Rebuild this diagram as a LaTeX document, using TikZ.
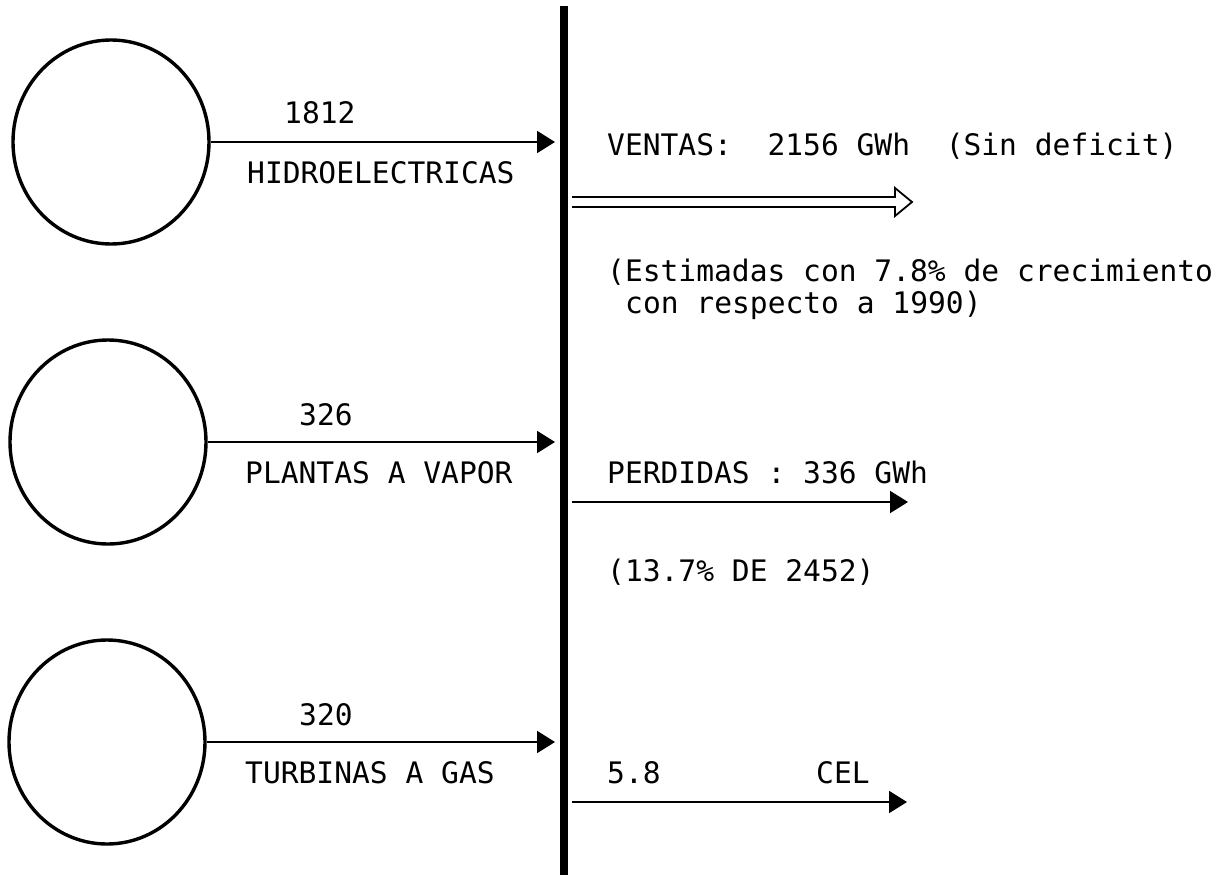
\documentclass[tikz,border=0pt]{standalone}
\usepackage{fontspec}
\setmonofont{DejaVu Sans Mono}
\usetikzlibrary{arrows.meta,shapes.geometric}
\newcommand\plotfont{\ttfamily\fontsize{29.6pt}{34pt}\selectfont}
\begin{document}
\begin{tikzpicture}[x=1pt,y=-1pt,
  src/.style={ellipse, draw, line width=3.4pt, minimum width=196pt, minimum height=204pt, inner sep=0pt},
  lbl/.style={anchor=base west, inner sep=0pt, font=\plotfont},
  feed/.style={line width=2pt, -{Triangle[length=18pt,width=22pt]}},
  busbar/.style={line width=7.5pt},
  hollow/.style={line width=1.8pt, line join=miter}]
\useasboundingbox (0,0) rectangle (1222,875);

% bus bar
\coordinate (bartop) at (564,6);
\coordinate (barbot) at (564,875);
\draw[busbar] (bartop) -- (barbot);

% sources
\node[src] (c1) at (111,142) {};
\node[src] (c2) at (108,442) {};
\node[src] (c3) at (107,742) {};

\coordinate (in1) at (555,142);
\coordinate (in2) at (555,442);
\coordinate (in3) at (555,742);
\draw[feed] (c1.east) -- (in1);
\draw[feed] (c2.east) -- (in2);
\draw[feed] (c3.east) -- (in3);

\node[lbl] (v1) at (284,123) {1812};
\node[lbl] (n1) at (247,183) {HIDROELECTRICAS};
\node[lbl] (v2) at (299,425) {326};
\node[lbl] (n2) at (245,483) {PLANTAS A VAPOR};
\node[lbl] (v3) at (299,725) {320};
\node[lbl] (n3) at (245,783) {TURBINAS A GAS};

% outputs
\node[lbl] (ventas) at (607,155) {VENTAS:\ \ 2156 GWh\ \ (Sin deficit)};
\draw[hollow] (572,197) -- (895,197) -- (895,188) -- (912,202) -- (895,216) -- (895,207) -- (572,207);
\node[lbl] (est1) at (607,281) {(Estimadas con 7.8\% de crecimiento};
\node[lbl] (est2) at (625,313) {con respecto a 1990)};

\node[lbl] (perd) at (607,483) {PERDIDAS : 336 GWh};
\coordinate (o2s) at (572,502);
\coordinate (o2e) at (908,502);
\draw[feed] (o2s) -- (o2e);
\node[lbl] (pct) at (607,581) {(13.7\% DE 2452)};

\node[lbl] (cel1) at (607,783) {5.8};
\node[lbl] (cel2) at (816,783) {CEL};
\coordinate (o3s) at (572,802);
\coordinate (o3e) at (907,802);
\draw[feed] (o3s) -- (o3e);
\end{tikzpicture}
\end{document}
